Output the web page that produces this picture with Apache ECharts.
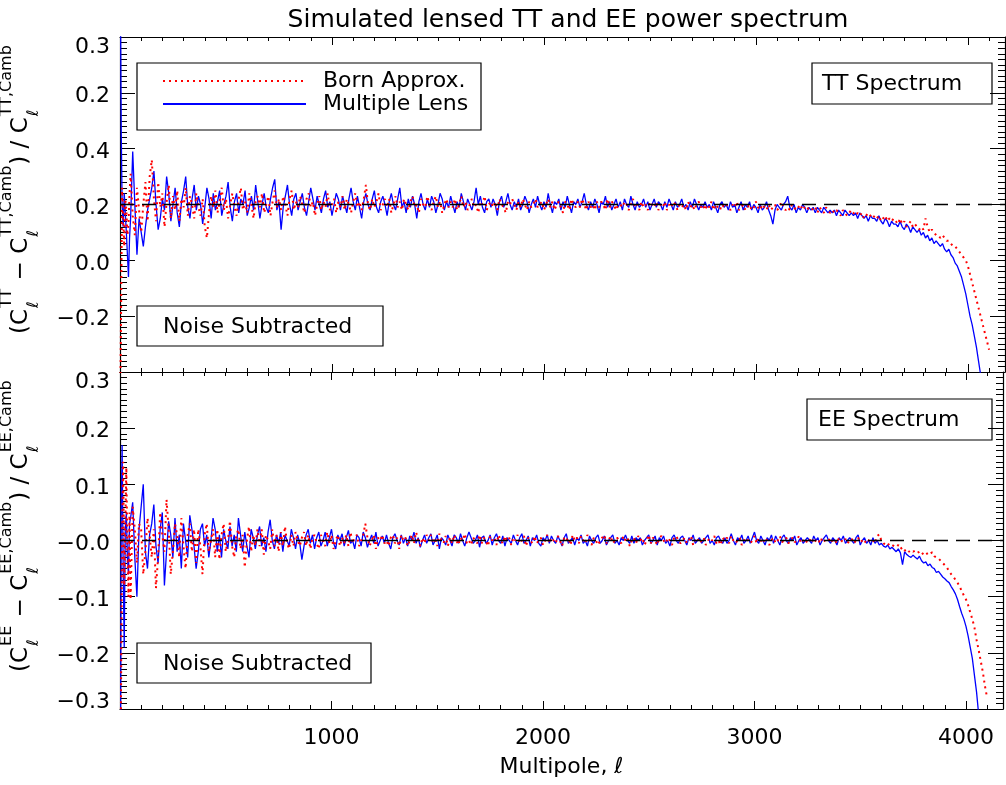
<!DOCTYPE html>
<html><head><meta charset="utf-8">
<script src="https://cdn.jsdelivr.net/npm/echarts@6/dist/echarts.min.js"></script>
<style>html,body{margin:0;padding:0;background:#fff}#c{width:1006px;height:785px}</style>
</head><body><div id="c"></div>
<script>
// ---------- DATA ----------
const ell = [2,6,10,15,20,25,30,35,40,45,50,
 60,70,80,90,100,110,120,130,140,150,
 160,170,180,190,200,210,220,230,240,250,
 260,270,280,290,300,310,320,330,340,350,
 360,370,380,390,400,410,420,430,440,450,
 460,470,480,490,500,510,520,530,540,550,
 560,570,580,590,600,610,620,630,640,650,
 660,670,680,690,700,710,720,730,740,750,
 760,770,780,790,800,810,820,830,840,850,
 860,870,880,890,900,910,920,930,940,950,
 960,970,980,990,1000,1010,1020,1030,1040,1050,
 1060,1070,1080,1090,1100,1110,1120,1130,1140,1150,
 1160,1170,1180,1190,1200,1210,1220,1230,1240,1250,
 1260,1270,1280,1290,1300,1310,1320,1330,1340,1350,
 1360,1370,1380,1390,1400,1410,1420,1430,1440,1450,
 1460,1470,1480,1490,1500,1510,1520,1530,1540,1550,
 1560,1570,1580,1590,1600,1610,1620,1630,1640,1650,
 1660,1670,1680,1690,1700,1710,1720,1730,1740,1750,
 1760,1770,1780,1790,1800,1810,1820,1830,1840,1850,
 1860,1870,1880,1890,1900,1910,1920,1930,1940,1950,
 1960,1970,1980,1990,2000,2010,2020,2030,2040,2050,
 2060,2070,2080,2090,2100,2110,2120,2130,2140,2150,
 2160,2170,2180,2190,2200,2210,2220,2230,2240,2250,
 2260,2270,2280,2290,2300,2310,2320,2330,2340,2350,
 2360,2370,2380,2390,2400,2410,2420,2430,2440,2450,
 2460,2470,2480,2490,2500,2510,2520,2530,2540,2550,
 2560,2570,2580,2590,2600,2610,2620,2630,2640,2650,
 2660,2670,2680,2690,2700,2710,2720,2730,2740,2750,
 2760,2770,2780,2790,2800,2810,2820,2830,2840,2850,
 2860,2870,2880,2890,2900,2910,2920,2930,2940,2950,
 2960,2970,2980,2990,3000,3010,3020,3030,3040,3050,
 3060,3070,3080,3090,3100,3110,3120,3130,3140,3150,
 3160,3170,3180,3190,3200,3210,3220,3230,3240,3250,
 3260,3270,3280,3290,3300,3310,3320,3330,3340,3350,
 3360,3370,3380,3390,3400,3410,3420,3430,3440,3450,
 3460,3470,3480,3490,3500,3510,3520,3530,3540,3550,
 3560,3570,3580,3590,3600,3610,3620,3630,3640,3650,
 3660,3670,3680,3690,3700,3710,3720,3730,3740,3750,
 3760,3770,3780,3790,3800,3810,3820,3830,3840,3850,
 3860,3870,3880,3890,3900,3910,3920,3930,3940,3950,
 3960,3970,3980,3990,4000,4010,4020,4030,4040,4050,
 4060,4070,4080,4090,4100];

// TT spectrum, Multiple Lens (blue)
const ttMulti = [0.95,0.45,0.20,0.12,0.24,0.17,0.10,0.02,-0.06,0.08,0.15,
 0.39,0.20,0.02,0.15,0.10,0.05,0.12,0.18,0.22,0.26,
 0.32,0.20,0.11,0.15,0.22,0.18,0.30,0.24,0.14,0.20,
 0.26,0.17,0.12,0.21,0.25,0.30,0.19,0.15,0.22,0.27,
 0.18,0.23,0.20,0.13,0.19,0.26,0.22,0.15,0.24,0.18,
 0.21,0.25,0.16,0.20,0.23,0.28,0.19,0.14,0.21,0.24,
 0.17,0.22,0.20,0.25,0.16,0.19,0.23,0.18,0.27,0.21,
 0.15,0.20,0.24,0.19,0.17,0.22,0.26,0.29,0.18,0.21,
 0.11,0.19,0.23,0.27,0.20,0.16,0.22,0.24,0.18,0.21,
 0.24,0.19,0.16,0.21,0.26,0.22,0.18,0.23,0.20,0.17,
 0.22,0.25,0.19,0.21,0.16,0.20,0.24,0.22,0.18,0.23,
 0.20,0.17,0.22,0.26,0.21,0.18,0.23,0.19,0.15,0.21,
 0.24,0.20,0.18,0.22,0.25,0.19,0.17,0.21,0.23,0.20,
 0.16,0.21,0.24,0.20,0.18,0.22,0.26,0.19,0.21,0.17,
 0.22,0.19,0.23,0.20,0.15,0.21,0.24,0.20,0.18,0.22,
 0.19,0.23,0.21,0.17,0.20,0.24,0.22,0.18,0.21,0.19,
 0.23,0.20,0.17,0.21,0.19,0.24,0.21,0.18,0.22,0.20,
 0.18,0.21,0.26,0.20,0.23,0.19,0.17,0.21,0.22,0.19,
 0.22,0.20,0.16,0.21,0.23,0.19,0.21,0.24,0.20,0.18,
 0.21,0.19,0.22,0.18,0.20,0.23,0.21,0.17,0.20,0.22,
 0.19,0.23,0.20,0.18,0.21,0.19,0.24,0.20,0.17,0.21,
 0.20,0.22,0.18,0.21,0.19,0.23,0.20,0.17,0.21,0.20,
 0.22,0.19,0.21,0.24,0.20,0.18,0.21,0.19,0.22,0.20,
 0.17,0.21,0.20,0.23,0.19,0.21,0.18,0.20,0.22,0.19,
 0.21,0.18,0.22,0.20,0.19,0.23,0.20,0.18,0.21,0.19,
 0.20,0.22,0.19,0.21,0.18,0.20,0.22,0.19,0.21,0.20,
 0.18,0.21,0.19,0.22,0.20,0.18,0.21,0.19,0.20,0.22,
 0.19,0.20,0.18,0.21,0.19,0.22,0.20,0.18,0.20,0.19,
 0.21,0.19,0.20,0.18,0.21,0.19,0.17,0.20,0.21,0.19,
 0.20,0.18,0.21,0.19,0.20,0.17,0.19,0.21,0.18,0.20,
 0.19,0.21,0.18,0.20,0.19,0.17,0.20,0.18,0.19,0.21,
 0.18,0.16,0.13,0.18,0.20,0.19,0.18,0.20,0.21,0.23,
 0.19,0.18,0.20,0.17,0.19,0.18,0.20,0.19,0.17,0.19,
 0.18,0.19,0.17,0.19,0.18,0.17,0.19,0.18,0.17,0.18,
 0.17,0.18,0.16,0.18,0.17,0.16,0.18,0.17,0.16,0.17,
 0.16,0.17,0.15,0.17,0.16,0.15,0.16,0.14,0.16,0.15,
 0.15,0.14,0.16,0.14,0.13,0.15,0.14,0.12,0.14,0.13,
 0.13,0.12,0.14,0.12,0.11,0.13,0.12,0.10,0.12,0.11,
 0.10,0.11,0.09,0.10,0.08,0.09,0.07,0.08,0.06,0.07,
 0.06,0.05,0.06,0.04,0.03,0.04,0.02,0.01,-0.01,-0.02,
 -0.04,-0.06,-0.09,-0.12,-0.16,-0.20,-0.23,-0.27,-0.31,-0.36,
 -0.41,-0.46,-0.52,-0.58,-0.64];

// TT spectrum, Born approximation (red)
const ttBorn = [-0.45,-0.10,0.26,0.15,0.05,0.22,0.18,0.09,0.13,0.24,0.31,
 0.16,0.09,0.26,0.18,0.10,0.20,0.28,0.14,0.30,0.36,
 0.22,0.14,0.28,0.19,0.24,0.12,0.21,0.27,0.15,0.23,
 0.18,0.25,0.14,0.22,0.19,0.26,0.16,0.23,0.20,0.15,
 0.24,0.19,0.16,0.22,0.12,0.08,0.17,0.23,0.19,0.25,
 0.17,0.21,0.26,0.18,0.22,0.15,0.20,0.24,0.19,0.16,
 0.22,0.26,0.18,0.21,0.17,0.24,0.20,0.15,0.21,0.23,
 0.19,0.24,0.17,0.20,0.23,0.16,0.21,0.25,0.19,0.22,
 0.18,0.23,0.20,0.16,0.22,0.25,0.18,0.21,0.19,0.23,
 0.20,0.17,0.22,0.24,0.19,0.21,0.16,0.20,0.23,0.18,
 0.21,0.19,0.24,0.18,0.20,0.22,0.17,0.21,0.19,0.23,
 0.18,0.22,0.20,0.17,0.21,0.24,0.19,0.21,0.18,0.22,
 0.27,0.20,0.18,0.22,0.19,0.21,0.24,0.18,0.20,0.22,
 0.19,0.22,0.17,0.20,0.23,0.19,0.21,0.18,0.22,0.20,
 0.18,0.21,0.23,0.19,0.20,0.17,0.22,0.20,0.19,0.23,
 0.20,0.18,0.21,0.23,0.19,0.21,0.17,0.20,0.22,0.19,
 0.21,0.19,0.22,0.18,0.20,0.23,0.19,0.21,0.18,0.20,
 0.22,0.19,0.20,0.17,0.21,0.20,0.23,0.18,0.20,0.21,
 0.19,0.21,0.18,0.22,0.20,0.19,0.17,0.21,0.20,0.22,
 0.20,0.18,0.21,0.19,0.22,0.20,0.18,0.21,0.19,0.20,
 0.22,0.19,0.20,0.21,0.18,0.20,0.22,0.19,0.21,0.18,
 0.20,0.21,0.19,0.17,0.21,0.20,0.18,0.22,0.20,0.19,
 0.21,0.19,0.22,0.20,0.18,0.21,0.19,0.20,0.18,0.21,
 0.19,0.21,0.20,0.18,0.22,0.19,0.21,0.20,0.18,0.20,
 0.20,0.19,0.21,0.20,0.18,0.20,0.22,0.19,0.20,0.18,
 0.21,0.19,0.20,0.18,0.21,0.20,0.19,0.21,0.18,0.20,
 0.19,0.21,0.18,0.20,0.19,0.21,0.20,0.18,0.20,0.19,
 0.20,0.18,0.21,0.19,0.20,0.18,0.20,0.21,0.19,0.20,
 0.18,0.20,0.19,0.21,0.18,0.20,0.19,0.18,0.20,0.19,
 0.20,0.19,0.18,0.20,0.19,0.21,0.18,0.19,0.20,0.18,
 0.19,0.20,0.18,0.19,0.21,0.19,0.18,0.20,0.19,0.18,
 0.20,0.18,0.19,0.20,0.18,0.19,0.21,0.19,0.18,0.19,
 0.18,0.20,0.19,0.18,0.19,0.20,0.18,0.19,0.18,0.19,
 0.19,0.18,0.19,0.17,0.19,0.18,0.17,0.19,0.18,0.17,
 0.18,0.17,0.18,0.17,0.16,0.18,0.17,0.16,0.17,0.18,
 0.17,0.16,0.17,0.16,0.17,0.15,0.16,0.17,0.16,0.15,
 0.16,0.15,0.16,0.14,0.15,0.16,0.14,0.15,0.14,0.15,
 0.14,0.13,0.15,0.13,0.14,0.12,0.13,0.14,0.12,0.13,
 0.12,0.11,0.12,0.11,0.15,0.12,0.10,0.11,0.10,0.09,
 0.09,0.08,0.09,0.08,0.07,0.07,0.06,0.05,0.05,0.04,
 0.03,0.02,0.01,0.00,-0.02,-0.05,-0.08,-0.11,-0.14,-0.17,
 -0.20,-0.23,-0.26,-0.29,-0.32];

// EE spectrum, Multiple Lens (blue)
const eeMulti = [-0.45,0.05,0.17,-0.05,-0.19,0.02,0.05,-0.03,-0.06,0.03,0.04,
 0.068,-0.03,-0.10,0.02,0.06,0.10,-0.02,-0.05,0.01,0.03,
 0.064,-0.01,-0.04,0.02,0.05,-0.08,-0.02,0.034,0.01,-0.03,
 0.04,-0.02,0.01,-0.05,0.03,0.00,-0.03,0.045,0.02,-0.01,
 -0.05,-0.02,0.02,0.03,-0.01,0.01,-0.03,0.00,0.04,0.02,
 -0.02,0.01,-0.03,0.02,0.00,-0.015,0.025,-0.01,0.01,-0.02,
 0.04,0.01,-0.02,0.015,-0.01,-0.03,0.02,0.005,-0.015,0.01,
 0.025,-0.01,0.005,-0.02,0.015,0.037,0.0,-0.015,0.01,-0.005,
 0.015,-0.02,0.01,0.0,-0.01,0.02,0.005,-0.015,0.01,-0.005,
 -0.034,-0.01,0.01,0.02,-0.005,0.01,-0.015,0.005,0.015,-0.01,
 0.0,0.015,-0.01,0.005,0.02,-0.005,-0.015,0.01,0.0,0.012,
 -0.01,0.005,0.018,-0.005,0.0,-0.015,0.01,0.005,-0.01,0.015,
 0.005,-0.012,0.0,0.01,-0.005,0.015,-0.01,0.0,0.008,-0.005,
 0.01,-0.005,-0.015,0.005,0.012,0.0,-0.008,0.01,-0.005,0.005,
 -0.01,0.008,0.0,0.015,-0.005,0.005,-0.012,0.0,0.01,-0.005,
 0.005,0.012,-0.008,0.0,0.01,-0.015,0.005,0.0,-0.008,0.01,
 0.0,-0.01,0.01,0.005,-0.005,0.012,0.0,-0.01,0.005,0.015,
 0.005,-0.005,0.0,0.01,-0.012,0.005,0.008,-0.005,0.0,0.01,
 -0.008,0.005,0.012,0.0,-0.005,0.008,-0.01,0.005,0.0,-0.005,
 0.01,0.0,-0.008,0.005,0.012,-0.005,0.0,0.008,-0.01,0.005,
 0.0,0.01,-0.005,-0.01,0.005,0.0,0.01,-0.005,0.008,0.0,
 -0.005,0.008,0.0,-0.01,0.005,0.012,-0.005,0.0,0.005,-0.008,
 0.005,0.0,0.01,-0.005,0.0,-0.01,0.008,0.0,-0.005,0.005,
 0.01,-0.005,0.0,0.008,-0.008,0.0,0.005,0.01,-0.005,0.0,
 -0.008,0.005,0.0,0.01,0.0,-0.005,0.008,-0.005,0.005,0.0,
 0.005,-0.008,0.0,0.005,0.01,-0.005,0.0,0.008,-0.008,0.005,
 0.0,0.008,-0.005,0.0,-0.01,0.005,0.01,0.0,-0.005,0.005,
 0.008,0.0,-0.008,0.005,0.0,0.01,-0.005,0.0,0.005,-0.005,
 0.0,0.005,0.01,-0.005,0.0,-0.008,0.005,0.008,0.0,-0.005,
 0.005,-0.005,0.0,0.012,0.0,-0.008,0.005,0.0,0.01,-0.005,
 0.0,0.008,-0.005,0.005,0.015,0.0,-0.005,0.008,0.0,-0.008,
 0.005,0.0,0.01,-0.005,0.008,0.0,-0.008,0.005,0.01,0.0,
 -0.005,0.005,0.0,0.008,-0.008,0.0,0.005,-0.005,0.0,0.005,
 0.0,-0.005,0.008,0.0,0.005,-0.008,0.0,0.005,0.01,0.0,
 -0.005,0.005,0.0,-0.008,0.005,0.0,0.008,-0.005,0.0,0.005,
 0.0,-0.005,0.005,0.01,-0.008,0.0,0.005,-0.005,0.0,-0.008,
 0.005,-0.005,0.0,-0.008,-0.005,-0.01,-0.012,-0.008,-0.015,-0.012,
 -0.016,-0.02,-0.015,-0.022,-0.043,-0.02,-0.025,-0.028,-0.03,-0.026,
 -0.03,-0.033,-0.028,-0.036,-0.04,-0.038,-0.045,-0.042,-0.048,-0.05,
 -0.057,-0.055,-0.06,-0.065,-0.068,-0.072,-0.075,-0.082,-0.088,-0.095,
 -0.105,-0.118,-0.13,-0.14,-0.153,-0.17,-0.19,-0.21,-0.24,-0.27,
 -0.31,-0.35,-0.40,-0.45,-0.50];

// EE spectrum, Born approximation (red)
const eeBorn = [-0.45,-0.20,0.02,0.14,-0.08,0.03,0.13,-0.02,-0.10,0.05,-0.105,
 0.06,0.02,-0.04,0.03,0.02,-0.06,-0.02,0.04,0.01,-0.03,
 0.02,-0.085,-0.03,0.05,0.01,-0.02,0.073,0.02,-0.06,-0.02,
 0.03,0.01,-0.03,0.04,-0.01,-0.05,0.01,0.03,-0.02,0.02,
 -0.04,0.02,-0.01,-0.06,0.01,0.03,-0.02,0.00,0.02,-0.03,
 0.02,-0.034,0.01,0.03,-0.02,0.00,0.035,-0.01,-0.03,0.01,
 0.02,-0.015,0.01,-0.048,0.0,0.025,-0.02,0.01,-0.01,0.02,
 -0.01,0.02,-0.025,0.01,0.0,-0.015,0.02,-0.01,0.01,-0.02,
 0.015,-0.01,0.025,-0.005,-0.015,0.01,-0.01,0.015,0.0,-0.01,
 0.005,0.015,-0.01,0.01,-0.015,0.005,0.01,-0.005,-0.015,0.01,
 0.0,-0.01,0.015,-0.005,0.01,-0.015,0.0,0.01,-0.01,0.005,
 -0.005,0.01,-0.01,0.015,-0.005,0.005,0.01,-0.01,0.0,0.01,
 0.03,0.005,-0.01,0.0,0.01,-0.015,0.005,0.0,0.01,-0.005,
 0.0,-0.01,0.005,0.01,-0.005,0.005,-0.015,0.01,0.0,0.005,
 -0.01,0.0,0.01,-0.005,0.015,0.0,-0.01,0.005,-0.005,0.01,
 0.0,0.01,-0.005,0.005,-0.01,0.012,0.0,-0.005,0.008,-0.01,
 0.005,-0.005,0.01,0.0,-0.008,0.005,0.0,0.012,-0.005,0.0,
 -0.008,0.005,0.0,-0.005,0.01,-0.005,0.005,0.0,-0.01,0.008,
 0.0,0.005,-0.008,0.01,0.0,-0.005,0.008,0.0,0.005,-0.008,
 0.005,0.0,0.01,-0.005,0.0,0.008,-0.01,0.005,0.0,-0.005,
 0.008,-0.005,0.0,0.005,-0.008,0.0,0.01,-0.005,0.005,0.0,
 -0.005,0.008,0.0,-0.01,0.005,0.0,0.005,-0.008,0.01,0.0,
 0.005,-0.005,0.008,0.0,-0.005,0.01,0.0,-0.008,0.005,0.0,
 -0.008,0.0,0.005,0.01,-0.005,0.0,0.008,-0.005,0.0,0.005,
 0.0,-0.005,0.008,0.0,0.005,-0.01,0.0,0.005,-0.005,0.008,
 0.0,0.005,-0.008,0.0,0.01,-0.005,0.005,0.0,-0.008,0.005,
 0.008,0.0,-0.005,0.005,0.0,-0.008,0.005,0.008,0.0,-0.005,
 0.0,0.005,-0.005,0.0,0.008,-0.008,0.0,0.005,-0.005,0.0,
 0.005,-0.008,0.0,0.005,0.0,0.008,-0.005,0.0,-0.008,0.005,
 0.0,0.005,-0.005,0.008,0.0,-0.005,0.0,0.005,-0.008,0.0,
 0.005,0.0,-0.005,0.0,0.008,-0.005,0.005,0.0,-0.005,0.005,
 0.0,-0.008,0.0,0.005,-0.005,0.0,0.008,-0.003,0.0,0.005,
 -0.005,0.0,0.005,-0.003,0.0,0.008,-0.005,0.0,0.003,-0.005,
 0.0,0.005,-0.005,0.0,0.003,-0.005,0.005,0.0,-0.003,0.0,
 0.005,-0.003,0.0,-0.005,0.005,0.0,-0.003,0.003,-0.005,0.0,
 0.003,-0.005,0.0,0.005,-0.003,0.0,-0.005,0.003,0.0,-0.003,
 0.0,-0.005,0.008,0.011,0.0,-0.005,-0.008,-0.005,-0.01,-0.008,
 -0.01,-0.012,-0.008,-0.015,-0.012,-0.018,-0.015,-0.02,-0.017,-0.02,
 -0.018,-0.022,-0.02,-0.025,-0.022,-0.02,-0.026,-0.024,-0.021,-0.028,
 -0.03,-0.032,-0.036,-0.04,-0.044,-0.048,-0.055,-0.06,-0.064,-0.07,
 -0.075,-0.082,-0.09,-0.098,-0.105,-0.115,-0.128,-0.14,-0.155,-0.177,
 -0.195,-0.215,-0.235,-0.26,-0.28];

const seriesNames = ['Born Approx.', 'Multiple Lens'];
const ttReference = 0.2;
const eeReference = 0.0;
const xTickLabels = ['', '1000', '2000', '3000', '4000'];
const ttTickLabels = ['', '\u22120.2', '0.0', '0.2', '0.4', '0.2', '0.3'];
const eeTickLabels = ['\u22120.3', '\u22120.2', '\u22120.1', '\u22120.0', '0.1', '0.2', '0.3'];
const titleText = 'Simulated lensed TT and EE power spectrum';
const xName = 'Multipole, \u2113';

// ---------- CHART ----------
const FONT = '"DejaVu Sans", "Liberation Sans", sans-serif';
const X_MAX = 4175;
const GL = 120, GW = 885;
const grids = [{left: GL, top: 37, width: GW, height: 335}, {left: GL, top: 372, width: GW, height: 337}];

function pairs(vals) { return ell.map((l, i) => [l, vals[i]]); }

function xAx(g, pos, interval, len, showLabel, showLine) {
  return {
    type: 'value', gridIndex: g, position: pos, min: 0, max: X_MAX, interval: interval,
    axisLine: {show: showLine, onZero: false, lineStyle: {color: '#000', width: 1.2}},
    axisTick: {show: true, inside: true, length: len, lineStyle: {color: '#000', width: 1}},
    axisLabel: {show: showLabel, margin: 18, fontFamily: FONT, fontSize: 22, color: '#000',
      formatter: v => (v % 1000 === 0 ? (xTickLabels[Math.round(v / 1000)] || '') : '')},
    splitLine: {show: false},
    name: (showLabel ? xName : ''), nameLocation: 'middle', nameGap: 47,
    nameTextStyle: {fontFamily: FONT, fontSize: 22, color: '#000'}
  };
}
function yAx(g, pos, min, max, interval, labels, showLabel) {
  return {
    type: 'value', gridIndex: g, position: pos, min: min, max: max, interval: interval,
    axisLine: {show: true, onZero: false, lineStyle: {color: '#000', width: 1.2}},
    axisTick: {show: true, inside: true, length: 15, lineStyle: {color: '#000', width: 1}},
    minorTick: {show: true, splitNumber: 10, length: 7, lineStyle: {color: '#000', width: 1}},
    axisLabel: {show: showLabel, margin: 10, fontFamily: FONT, fontSize: 22, color: '#000',
      formatter: v => {
        const i = Math.round((v - min) / interval);
        const s = labels[i] || '';
        if (i === labels.length - 1) return '{top|' + s + '}';
        if (i === 0) return '{bot|' + s + '}';
        return '{n|' + s + '}';
      },
      rich: {
        n: {fontFamily: FONT, fontSize: 22, color: '#000', padding: [7, 0, 0, 0]},
        top: {fontFamily: FONT, fontSize: 22, color: '#000', padding: [20, 0, 0, 0]},
        bot: {fontFamily: FONT, fontSize: 22, color: '#000', padding: [0, 0, 14, 0]}
      }},
    splitLine: {show: false}, minorSplitLine: {show: false}
  };
}

const xAxes = [];
const yAxes = [];
[0, 1].forEach(g => {
  xAxes.push(xAx(g, 'bottom', 1000, 8, g === 1, true));
  xAxes.push(xAx(g, 'bottom', 100, 4, false, false));
  xAxes.push(xAx(g, 'top', 1000, 8, false, true));
  xAxes.push(xAx(g, 'top', 100, 4, false, false));
});
yAxes.push(yAx(0, 'left', -0.4, 0.8, 0.2, ttTickLabels, true));
yAxes.push(yAx(0, 'right', -0.4, 0.8, 0.2, ttTickLabels, false));
yAxes.push(yAx(1, 'left', -0.3, 0.3, 0.1, eeTickLabels, true));
yAxes.push(yAx(1, 'right', -0.3, 0.3, 0.1, eeTickLabels, false));

function refLine(v) {
  return {silent: true, symbol: ['none', 'none'], label: {show: false},
    lineStyle: {color: '#000', type: [14, 8], width: 1.3}, data: [{yAxis: v}], animation: false};
}
const blueStyle = {color: '#0000ff', width: 1.3, type: 'solid'};
const redStyle = {color: '#ff0000', width: 2, type: [2, 4]};

const series = [
  {name: seriesNames[1], type: 'line', xAxisIndex: 0, yAxisIndex: 0, data: pairs(ttMulti), symbol: 'none',
   lineStyle: blueStyle, itemStyle: {color: '#0000ff'}, clip: true, markLine: refLine(ttReference), z: 2},
  {name: seriesNames[0], type: 'line', xAxisIndex: 0, yAxisIndex: 0, data: pairs(ttBorn), symbol: 'none',
   lineStyle: redStyle, itemStyle: {color: '#ff0000'}, clip: true, z: 3},
  {name: seriesNames[1], type: 'line', xAxisIndex: 4, yAxisIndex: 2, data: pairs(eeMulti), symbol: 'none',
   lineStyle: blueStyle, itemStyle: {color: '#0000ff'}, clip: true, markLine: refLine(eeReference), z: 2},
  {name: seriesNames[0], type: 'line', xAxisIndex: 4, yAxisIndex: 2, data: pairs(eeBorn), symbol: 'none',
   lineStyle: redStyle, itemStyle: {color: '#ff0000'}, clip: true, z: 3}
];

// y-axis titles with stacked super/subscripts
const MAIN = 23, SMALL = 16;
const mctx = document.createElement('canvas').getContext('2d');
function tw(t, size) { mctx.font = size + 'px "DejaVu Sans"'; return mctx.measureText(t).width; }
function yTitle(sp, x0, y0) {
  const parts = [['('], ['C'], [sp, '\u2113'], [' \u2212 '], ['C'], [sp + ',Camb', '\u2113'], [')'], [' / '], ['C'], [sp + ',Camb', '\u2113']];
  const children = [];
  let lx = 0;
  parts.forEach(p => {
    if (p.length === 1) {
      children.push({type: 'text', x: lx, y: 0, style: {text: p[0], fontFamily: FONT, fontSize: MAIN, fill: '#000', align: 'left', verticalAlign: 'middle'}});
      lx += tw(p[0], MAIN);
    } else {
      children.push({type: 'text', x: lx + 1, y: -14, style: {text: p[0], fontFamily: FONT, fontSize: SMALL, fill: '#000', align: 'left', verticalAlign: 'middle'}});
      children.push({type: 'text', x: lx + 1, y: 13, style: {text: p[1], fontFamily: FONT, fontSize: SMALL, fill: '#000', align: 'left', verticalAlign: 'middle'}});
      lx += Math.max(tw(p[0], SMALL), tw(p[1], SMALL)) + 2;
    }
  });
  return {type: 'group', x: x0, y: y0, rotation: Math.PI / 2, children: children};
}
function box(x, y, w, h, text, tx) {
  return {type: 'group', children: [
    {type: 'rect', shape: {x: x, y: y, width: w, height: h}, style: {fill: 'none', stroke: '#000', lineWidth: 1.2}},
    {type: 'text', x: tx, y: y + h / 2 + 1, style: {text: text, fontFamily: FONT, fontSize: 22, fill: '#000', align: 'left', verticalAlign: 'middle'}}
  ]};
}

const chart = echarts.init(document.getElementById('c'), null, {renderer: 'canvas'});
chart.setOption({
  animation: false,
  backgroundColor: '#fff',
  title: {text: titleText, left: 563, top: 3, textAlign: 'center',
    textStyle: {fontFamily: FONT, fontSize: 25, fontWeight: 'normal', color: '#000'}},
  grid: grids,
  xAxis: xAxes,
  yAxis: yAxes,
  legend: {data: seriesNames, orient: 'vertical', left: 157, top: 65, itemWidth: 143, itemHeight: 12, itemGap: 1,
    selectedMode: false,
    itemStyle: {color: 'rgba(0,0,0,0)', borderWidth: 0, opacity: 0},
    textStyle: {fontFamily: FONT, fontSize: 22, color: '#000', padding: [0, 0, 0, 12]}},
  graphic: [
    {type: 'rect', shape: {x: 137, y: 63, width: 344, height: 67}, style: {fill: 'none', stroke: '#000', lineWidth: 1.2}},
    box(812, 63, 180, 41, 'TT Spectrum', 822),
    box(137, 306, 246, 40, 'Noise Subtracted', 163),
    box(807, 399, 185, 41, 'EE Spectrum', 818),
    box(137, 643, 234, 40, 'Noise Subtracted', 163),
    yTitle('TT', 21, 334),
    yTitle('EE', 21, 672)
  ],
  series: series
});
</script></body></html>
